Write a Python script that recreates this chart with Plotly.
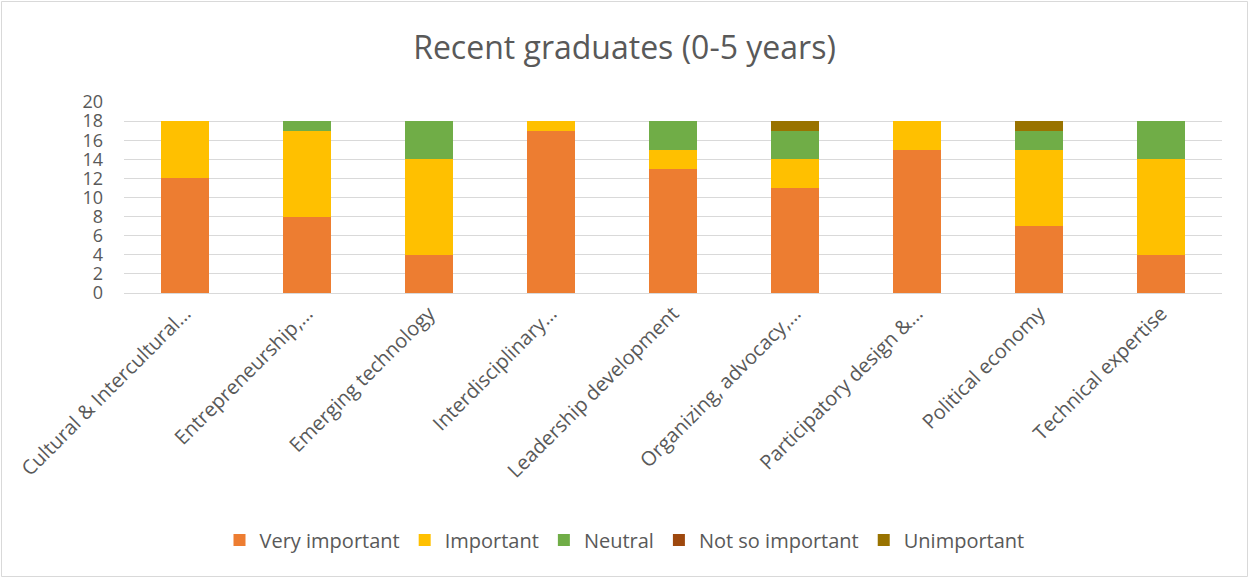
import plotly.graph_objects as go

categories = [
    "Cultural & Intercultural…",
    "Entrepreneurship,…",
    "Emerging technology",
    "Interdisciplinary…",
    "Leadership development",
    "Organizing, advocacy,…",
    "Participatory design &…",
    "Political economy",
    "Technical expertise",
]

very_important = [12, 8, 4, 17, 13, 11, 15, 7, 4]
important = [6, 9, 10, 1, 2, 3, 3, 8, 10]
neutral = [0, 1, 4, 0, 3, 3, 0, 2, 4]
not_so_important = [0, 0, 0, 0, 0, 0, 0, 0, 0]
unimportant = [0, 0, 0, 0, 0, 1, 0, 1, 0]

series = [
    ("Very important", very_important, "#ED7D31"),
    ("Important", important, "#FFC000"),
    ("Neutral", neutral, "#70AD47"),
    ("Not so important", not_so_important, "#9E480E"),
    ("Unimportant", unimportant, "#997300"),
]

W, H = 1249, 578
L, R, T, B = 124, 27, 102, 285
FONT = "Open Sans, Lato, sans-serif"

fig = go.Figure()
for name, vals, color in series:
    fig.add_trace(go.Bar(
        name=name, x=categories, y=vals,
        marker=dict(color=color, line=dict(width=0)),
    ))

# thin frame around the whole chart
pw, ph = W - L - R, H - T - B
fig.add_shape(
    type="rect", xref="paper", yref="paper",
    x0=(1.5 - L) / pw, x1=(W - 1.5 - L) / pw,
    y0=-(H - 1.5 - T - ph) / ph, y1=1 + (T - 1.5) / ph,
    line=dict(color="#D9D9D9", width=1), fillcolor="rgba(0,0,0,0)",
    layer="below",
)

fig.update_layout(
    width=W, height=H,
    margin=dict(l=L, r=R, t=T, b=B, autoexpand=False),
    barmode="stack",
    bargap=0.6,
    paper_bgcolor="white",
    plot_bgcolor="white",
    font=dict(family=FONT, color="#595959", size=18),
    title=dict(
        text="Recent graduates (0-5 years)",
        x=0.5, xanchor="center", xref="container",
        y=1 - 48 / H, yanchor="middle", yref="container",
        font=dict(size=32, color="#595959", family=FONT),
    ),
    xaxis=dict(
        tickangle=-45,
        tickfont=dict(size=20, color="#595959"),
        showgrid=False,
        showline=True, linecolor="#D9D9D9", linewidth=1,
        ticks="",
    ),
    yaxis=dict(
        range=[0, 20], dtick=2,
        tickfont=dict(size=18, color="#595959"),
        showgrid=True, gridcolor="#D9D9D9", gridwidth=1,
        zeroline=False, showline=False, ticks="",
        ticklabelstandoff=20,
    ),
    legend=dict(
        orientation="h",
        x=0.5, xanchor="center", xref="container",
        y=1 - 540 / H, yanchor="middle", yref="container",
        font=dict(size=20, color="#595959"),
        itemwidth=30,
        traceorder="normal",
    ),
    showlegend=True,
)

fig.write_html("out.html")
